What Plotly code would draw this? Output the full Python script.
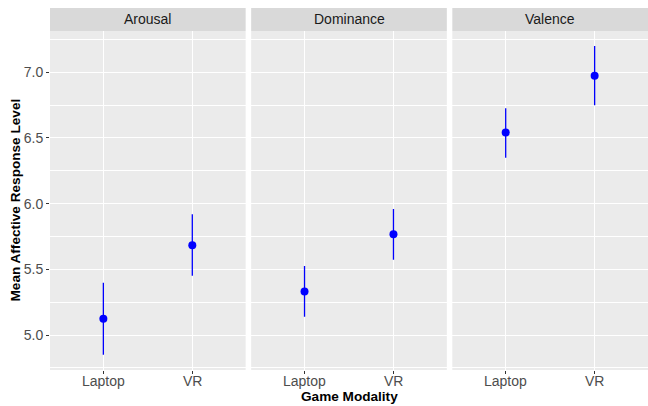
import plotly.graph_objects as go

panels = ["Arousal", "Dominance", "Valence"]
modalities = ["Laptop", "VR"]
means = {
    "Arousal": [5.124, 5.684],
    "Dominance": [5.332, 5.768],
    "Valence": [6.541, 6.974],
}
lower = {
    "Arousal": [4.85, 5.451],
    "Dominance": [5.139, 5.573],
    "Valence": [6.35, 6.749],
}
upper = {
    "Arousal": [5.398, 5.92],
    "Dominance": [5.525, 5.96],
    "Valence": [6.726, 7.20],
}
y_ticks = [5.0, 5.5, 6.0, 6.5, 7.0]
y_tick_labels = ["5.0", "5.5", "6.0", "6.5", "7.0"]

FONT = "Liberation Sans, Arial, sans-serif"
W, H = 648, 406
L, R, T, B = 50, 0, 31, 36
plot_w = W - L - R
plot_h = H - T - B
gap = 5.5 / plot_w
pw = (1 - 2 * gap) / 3
domains = [[i * (pw + gap), i * (pw + gap) + pw] for i in range(3)]

fig = go.Figure()
xpos = [1, 2]
for i, p in enumerate(panels):
    ax = "" if i == 0 else str(i + 1)
    fig.add_trace(go.Scatter(
        x=xpos, y=means[p], mode="markers",
        marker=dict(color="blue", size=8),
        error_y=dict(type="data", symmetric=False,
                     array=[u - m for u, m in zip(upper[p], means[p])],
                     arrayminus=[m - l for m, l in zip(means[p], lower[p])],
                     color="blue", thickness=1.3, width=0),
        xaxis="x" + ax, yaxis="y" + ax, showlegend=False,
        cliponaxis=False,
    ))
    fig.update_layout(**{
        "xaxis" + ax: dict(domain=domains[i], range=[0.4, 2.6], tickvals=xpos,
                           ticktext=modalities, showgrid=True, gridcolor="white",
                           gridwidth=1.1, zeroline=False, ticks="outside",
                           ticklen=3, tickcolor="#333333", tickwidth=1,
                           showticklabels=False,
                           anchor="y" + ax, fixedrange=True),
        "yaxis" + ax: dict(domain=[0, 1], range=[4.734, 7.314], tickvals=y_ticks,
                           ticktext=y_tick_labels, showgrid=True, gridcolor="white",
                           gridwidth=1.1, zeroline=False,
                           ticks="outside" if i == 0 else "", ticklen=3,
                           tickcolor="#333333", showticklabels=(i == 0),
                           tickfont=dict(family=FONT, size=14, color="#4D4D4D"),
                           minor=dict(tick0=4.75, dtick=0.5, showgrid=True,
                                      gridcolor="white", gridwidth=0.5, ticks=""),
                           anchor="x" + ax, fixedrange=True),
    })
    for xv, lab in zip(xpos, modalities):
        fig.add_annotation(text=lab, xref="x" + ax, yref="paper", x=xv,
                           y=-11 / plot_h, showarrow=False, xanchor="center",
                           yanchor="middle",
                           font=dict(family=FONT, size=14, color="#4D4D4D"))
    fig.add_shape(type="rect", xref="paper", yref="paper",
                  x0=domains[i][0], x1=domains[i][1], y0=0, y1=1,
                  fillcolor="#EBEBEB", line_width=0, layer="below")
    fig.add_shape(type="rect", xref="paper", yref="paper",
                  x0=domains[i][0], x1=domains[i][1], y0=1, y1=1 + 23 / plot_h,
                  fillcolor="#D9D9D9", line_width=0, layer="below")
    fig.add_annotation(text=p, xref="paper", yref="paper",
                       x=(domains[i][0] + domains[i][1]) / 2, y=1 + 11.5 / plot_h,
                       showarrow=False, xanchor="center", yanchor="middle",
                       font=dict(family=FONT, size=14, color="#1A1A1A"))

fig.add_annotation(text="<b>Game Modality</b>", xref="paper", yref="paper",
                   x=0.5, y=-27 / plot_h, showarrow=False, xanchor="center",
                   yanchor="middle", font=dict(family=FONT, size=13.6, color="black"))
fig.add_annotation(text="<b>Mean Affective Response Level</b>", xref="paper",
                   yref="paper", x=-35 / plot_w, y=0.5, textangle=-90,
                   showarrow=False, xanchor="center", yanchor="middle",
                   font=dict(family=FONT, size=13.6, color="black"))

fig.update_layout(width=W, height=H, margin=dict(l=L, r=R, t=T, b=B),
                  paper_bgcolor="white", plot_bgcolor="rgba(0,0,0,0)",
                  font=dict(family=FONT))
fig.write_html("out.html", config={"displayModeBar": False},
               post_script="document.body.style.margin='0';document.body.style.overflow='hidden';")
